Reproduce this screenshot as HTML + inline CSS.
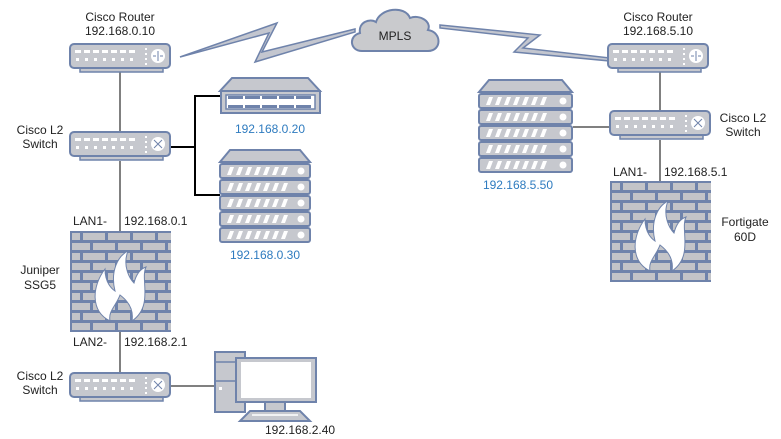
<!DOCTYPE html>
<html><head><meta charset="utf-8"><style>
html,body{margin:0;padding:0;background:#fff;}
svg{display:block;}
text{font-family:"Liberation Sans",sans-serif;font-size:12px;fill:#222;}
.b{fill:#2e7bbf;}
</style></head><body>
<svg id="s" width="781" height="439" viewBox="0 0 781 439" xmlns="http://www.w3.org/2000/svg">
<g stroke="#000" stroke-width="1" fill="none">
<line x1="120" y1="71" x2="120" y2="131"/>
<line x1="120" y1="161" x2="120" y2="231"/>
<line x1="120" y1="332" x2="120" y2="372"/>
<line x1="170" y1="386" x2="215" y2="386"/>
<line x1="660" y1="71" x2="660" y2="110"/>
<line x1="660" y1="140" x2="660" y2="181"/>
<line x1="573" y1="127" x2="610" y2="127"/>
</g>
<polyline points="171,147 195,147 195,96 220,96" fill="none" stroke="#000" stroke-width="2"/>
<polyline points="195,147 195,195 220,195" fill="none" stroke="#000" stroke-width="2"/>
<polygon points="180,57 277,23 262,52 355,29 355,32 255,62 269,33" fill="#c3c6cf" stroke="#6f83ab" stroke-width="1.5"/>
<polygon points="440,25 540,35 523,48 610,58 610,61 514,52 528,38 440,28" fill="#c3c6cf" stroke="#6f83ab" stroke-width="1.5"/>
<path d="M362,51 C350,51 348,36 360,33 C358,22 370,18 376,22 C380,8 405,5 410,18 C420,14 432,22 428,30 C442,32 442,51 428,51 Z" fill="#c9cacd" stroke="#6f83ab" stroke-width="2"/>
<text x="395" y="40" text-anchor="middle">MPLS</text>
<g id="dev"></g>
<text x="120" y="21" text-anchor="middle">Cisco Router</text>
<text x="120" y="35" text-anchor="middle">192.168.0.10</text>
<text x="658" y="21" text-anchor="middle">Cisco Router</text>
<text x="658" y="35" text-anchor="middle">192.168.5.10</text>
<text x="40" y="134" text-anchor="middle">Cisco L2</text>
<text x="40" y="148" text-anchor="middle">Switch</text>
<text x="40" y="380" text-anchor="middle">Cisco L2</text>
<text x="40" y="394" text-anchor="middle">Switch</text>
<text x="743" y="122" text-anchor="middle">Cisco L2</text>
<text x="743" y="136" text-anchor="middle">Switch</text>
<text x="40" y="274" text-anchor="middle">Juniper</text>
<text x="40" y="289" text-anchor="middle">SSG5</text>
<text x="745" y="226" text-anchor="middle">Fortigate</text>
<text x="745" y="241" text-anchor="middle">60D</text>
<text x="73" y="225">LAN1-</text>
<text x="124" y="225">192.168.0.1</text>
<text x="73" y="346">LAN2-</text>
<text x="124" y="346">192.168.2.1</text>
<text x="613" y="176">LAN1-</text>
<text x="664" y="176">192.168.5.1</text>
<text class="b" x="270" y="133" text-anchor="middle">192.168.0.20</text>
<text class="b" x="265" y="259" text-anchor="middle">192.168.0.30</text>
<text class="b" x="518" y="189" text-anchor="middle">192.168.5.50</text>
<text x="265" y="434">192.168.2.40</text>
</svg>
<script>
var NS="http://www.w3.org/2000/svg",g=document.getElementById("dev");
var F="#c6c8ce",S="#6f83ab";
function el(n,a){var e=document.createElementNS(NS,n);for(var k in a)e.setAttribute(k,a[k]);g.appendChild(e);return e;}
function box(x,y,router){
 el("rect",{x:x+10,y:y+22,width:83,height:6,fill:F,stroke:S,"stroke-width":1.5});
 el("rect",{x:x,y:y,width:100,height:24,rx:4,fill:F,stroke:S,"stroke-width":2});
 for(var i=0;i<7;i++){el("rect",{x:x+5+i*9,y:y+6,width:6,height:3,fill:"#fff"});el("rect",{x:x+6+i*9,y:y+14,width:3,height:3,fill:"#fff"});}
 for(var j=0;j<4;j++)el("rect",{x:x+75,y:y+4+j*5,width:2,height:2,fill:"#fff"});
 el("circle",{cx:x+88,cy:y+12,r:7,fill:"#fff"});
 if(router){el("path",{d:"M"+(x+88)+","+(y+7)+"v10M"+(x+83)+","+(y+12)+"h3M"+(x+90)+","+(y+12)+"h3",stroke:S,"stroke-width":1,fill:"none"});}
 else{el("path",{d:"M"+(x+84)+","+(y+8)+"l8,8M"+(x+92)+","+(y+8)+"l-8,8",stroke:S,"stroke-width":1,fill:"none"});}
}
box(70,44,1);box(608,44,1);box(70,132,0);box(610,111,0);box(70,373,0);
function fw(x,y){
 el("rect",{x:x,y:y,width:101,height:101,fill:S});
 for(var r=0;r<10;r++){var off=r%2?0:1;var ws=off?[8,22,22,22,13]:[18,22,22,22,3];var cx=x+2;
  for(var k=0;k<ws.length;k++){var w=ws[k];el("rect",{x:cx,y:y+2+r*10,width:w,height:7,fill:"#c3c4c8"});cx+=w+3;}
 }
 var X=x+50,Y=y+20;
 el("path",{d:"M"+(X-10)+","+(Y+70)+" C"+(X-30)+","+(Y+60)+" "+(X-28)+","+(Y+35)+" "+(X-15)+","+(Y+18)+" C"+(X-15)+","+(Y+32)+" "+(X-8)+","+(Y+38)+" "+(X-5)+","+(Y+40)+" C"+(X-10)+","+(Y+20)+" "+(X-2)+","+(Y+5)+" "+(X+8)+","+Y+" C"+(X+2)+","+(Y+15)+" "+(X+10)+","+(Y+28)+" "+(X+14)+","+(Y+32)+" C"+(X+16)+","+(Y+24)+" "+(X+20)+","+(Y+18)+" "+(X+26)+","+(Y+16)+" C"+(X+20)+","+(Y+28)+" "+(X+34)+","+(Y+55)+" "+(X+12)+","+(Y+70)+" C"+(X+14)+","+(Y+58)+" "+(X+8)+","+(Y+50)+" "+X+","+(Y+44)+" C"+(X-4)+","+(Y+55)+" "+(X-12)+","+(Y+60)+" "+(X-10)+","+(Y+70)+"Z",fill:"#fff",stroke:S,"stroke-width":1});
}
fw(70,231);fw(610,181);
function srv(x,y,w,n){
 el("polygon",{points:(x+10)+","+y+" "+(x+w-10)+","+y+" "+(x+w)+","+(y+12)+" "+x+","+(y+12),fill:F,stroke:S,"stroke-width":2});
 for(var i=0;i<n;i++){var yy=y+14+i*16;
  el("rect",{x:x,y:yy,width:w,height:14,rx:2,fill:F,stroke:S,"stroke-width":2});
  for(var k=0;k<7;k++)el("polygon",{points:(x+7+k*9)+","+(yy+11)+" "+(x+10+k*9)+","+(yy+3)+" "+(x+14+k*9)+","+(yy+3)+" "+(x+11+k*9)+","+(yy+11),fill:"#fff"});
  el("circle",{cx:x+w-9,cy:yy+7,r:3.5,fill:"#fff"});
 }
}
srv(220,150,90,5);srv(479,80,93,5);
el("polygon",{points:"232,78 308,78 320,91 220,91",fill:F,stroke:S,"stroke-width":2});
el("rect",{x:221,y:91,width:99,height:22,fill:F,stroke:S,"stroke-width":2});
el("rect",{x:226,y:95,width:89,height:14,fill:"#fff",stroke:S,"stroke-width":1.5});
for(var k=0;k<5;k++){el("rect",{x:228+k*17,y:96,width:15,height:3,fill:S});el("rect",{x:228+k*17,y:105,width:15,height:3,fill:S});}
el("rect",{x:215,y:352,width:30,height:60,fill:F,stroke:S,"stroke-width":2});
el("line",{x1:215,y1:362,x2:245,y2:362,stroke:S,"stroke-width":1.5});
el("line",{x1:215,y1:381,x2:245,y2:381,stroke:S,"stroke-width":1.5});
el("rect",{x:219,y:387,width:3,height:3,fill:"#fff"});
el("rect",{x:265,y:402,width:20,height:10,fill:F,stroke:S,"stroke-width":2});
el("rect",{x:236,y:358,width:80,height:44,fill:F,stroke:S,"stroke-width":2});
el("rect",{x:241,y:362,width:70,height:36,fill:"#fff"});
el("polygon",{points:"250,411 300,411 310,421 240,421",fill:F,stroke:S,"stroke-width":2});
el("line",{x1:252,y1:415,x2:298,y2:415,stroke:"#fff","stroke-width":1.5});
</script>
</body></html>
